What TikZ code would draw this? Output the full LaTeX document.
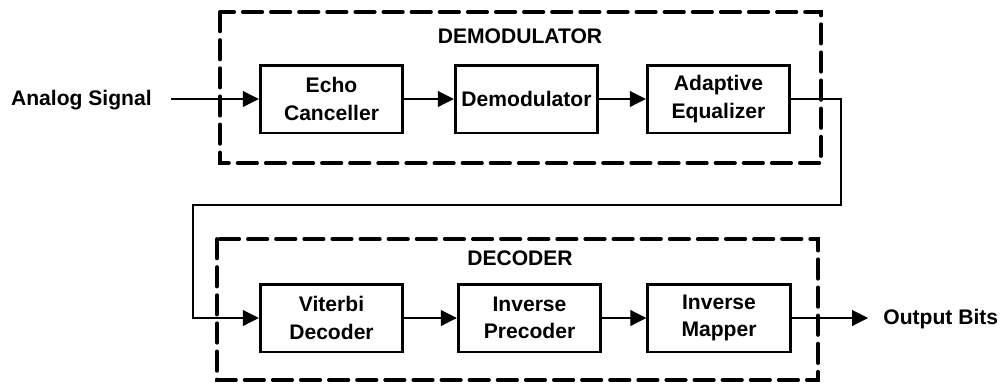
\documentclass[tikz,border=0pt]{standalone}
\usepackage{fontspec}
\setmainfont{Liberation Sans}
\usetikzlibrary{arrows.meta}

\tikzset{
  blk/.style={draw, line width=1.7pt, minimum width=2.85cm, minimum height=1.36cm,
              align=center, font=\fontsize{12}{15.6}\selectfont\bfseries, inner sep=0pt},
  lbl/.style={font=\fontsize{12}{15.6}\selectfont\bfseries, inner sep=0pt},
  grp/.style={draw, line width=2.2pt, line cap=round, dash pattern=on 11pt off 5pt},
  sig/.style={line width=0.6pt, -{Triangle[length=9pt,width=9pt]}}
}

\begin{document}
\begin{tikzpicture}[x=0.02cm, y=-0.02cm]
  \useasboundingbox (0,0) rectangle (1000,383);

  % group frames
  \draw[grp] (220,12) rectangle (821,163);
  \draw[grp] (217,239) rectangle (818,380);
  \node[lbl] (demodlbl) at (520,36) {DEMODULATOR};
  \node[lbl] (declbl) at (520,258) {DECODER};

  % demodulator chain
  \node[blk] (echo) at (331.5,99) {Echo\\Canceller};
  \node[blk] (demod) at (526.5,99) {Demodulator};
  \node[blk] (eq) at (718.5,99) {Adaptive\\Equalizer};

  % decoder chain
  \node[blk] (vit) at (331.5,318) {Viterbi\\Decoder};
  \node[blk] (prec) at (529.5,318) {Inverse\\Precoder};
  \node[blk] (map) at (719,318) {Inverse\\Mapper};

  % input and output
  \node[lbl, anchor=east] (in) at (152,100) {Analog Signal};
  \node[lbl, anchor=west] (out) at (883,319) {Output Bits};
  \coordinate (instart) at (171,99);
  \coordinate (outend) at (868,318);
  \coordinate (turnA) at (841,99);
  \coordinate (turnB) at (841,205);
  \coordinate (turnC) at (193,205);
  \coordinate (turnD) at (193,318);

  % connectors
  \draw[sig] (instart) -- (echo.west);
  \draw[sig] (echo) -- (demod);
  \draw[sig] (demod) -- (eq);
  \draw[sig] (eq.east) -- (turnA) -- (turnB) -- (turnC) -- (turnD) -- (vit.west);
  \draw[sig] (vit) -- (prec);
  \draw[sig] (prec) -- (map);
  \draw[sig] (map.east) -- (outend);
\end{tikzpicture}
\end{document}
